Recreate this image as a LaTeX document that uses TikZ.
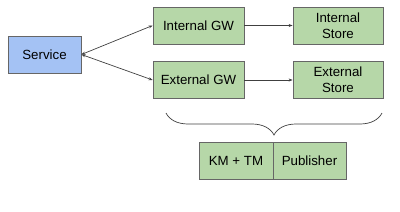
\documentclass[tikz,border=0pt]{standalone}
\usepackage{fontspec}
\setmainfont{Liberation Sans}
\usetikzlibrary{arrows.meta,decorations.pathreplacing}
\definecolor{svcblue}{HTML}{A4C2F4}
\definecolor{boxgreen}{HTML}{B6D7A8}
\definecolor{edgegray}{HTML}{666666}
\begin{document}
\begin{tikzpicture}[x=1pt, y=-1pt,
  every node/.style={draw=edgegray, line width=0.8pt, minimum height=37pt, inner sep=0pt,
    align=center, font=\fontsize{13.3}{16}\selectfont},
  link/.style={draw=black!75, line width=0.7pt, {Stealth[length=4pt,width=3pt]}-{Stealth[length=4pt,width=3pt]}},
  fwd/.style={draw=black!75, line width=0.7pt, -{Stealth[length=4pt,width=3pt]}}]
\useasboundingbox (0,0) rectangle (400,212);
\node[fill=svcblue, minimum width=73pt] (service) at (44.5,54.5) {Service};
\node[fill=boxgreen, minimum width=91pt] (intgw) at (198.5,25.5) {Internal GW};
\node[fill=boxgreen, minimum width=91pt] (extgw) at (198.5,80) {External GW};
\node[fill=boxgreen, minimum width=90pt] (intstore) at (338,25.5) {Internal\\Store};
\node[fill=boxgreen, minimum width=90pt] (extstore) at (338,80) {External\\Store};
\node[fill=boxgreen, minimum width=74pt] (kmtm) at (236,160.5) {KM + TM};
\node[fill=boxgreen, minimum width=73pt] (publisher) at (309.5,160.5) {Publisher};
\coordinate (braceL) at (166,113);
\coordinate (braceR) at (382,113);
\draw[link] (service.east) -- (intgw.west);
\draw[link] (service.east) -- (extgw.west);
\draw[fwd] (intgw) -- (intstore);
\draw[fwd] (extgw) -- (extstore);
\draw[black!75, line width=0.7pt, decorate, decoration={brace, amplitude=22pt}] (braceR) -- (braceL);
\end{tikzpicture}
\end{document}
